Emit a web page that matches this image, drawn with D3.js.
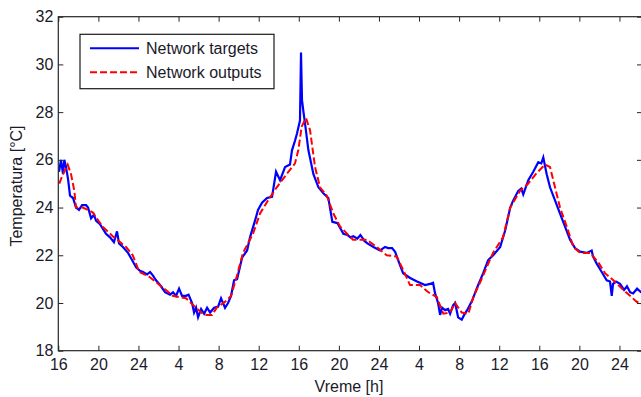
<!DOCTYPE html>
<html>
<head>
<meta charset="utf-8">
<script src="https://cdn.jsdelivr.net/npm/d3@7"></script>
<style>
  body { margin: 0; background: #fff; }
  text { font-family: "Liberation Sans", Arial, sans-serif; fill: #1a1a2a; }
</style>
</head>
<body>
<div id="chart"></div>
<script>
// hours since start (16h on day 1) and measured temperature
const targetHours = [0.07, 0.27, 0.47, 0.6, 0.77, 0.97, 1.17, 1.47, 1.77, 2.07, 2.37, 2.77, 2.97, 3.27, 3.56, 3.76, 4.16, 4.76, 5.16, 5.55, 5.86, 6.06, 6.45, 6.96, 7.36, 7.76, 8.15, 8.46, 8.86, 9.16, 9.45, 9.75, 10.25, 10.65, 11.15, 11.45, 11.75, 12.05, 12.35, 12.75, 13.0, 13.35, 13.55, 13.75, 13.95, 14.25, 14.55, 14.85, 15.15, 15.55, 15.95, 16.24, 16.64, 16.94, 17.24, 17.54, 17.84, 18.34, 18.84, 19.13, 19.63, 19.93, 20.33, 20.83, 21.33, 21.73, 22.13, 22.63, 23.12, 23.32, 23.62, 23.82, 24.12, 24.22, 24.32, 24.47, 24.66, 24.96, 25.46, 25.96, 26.45, 26.95, 27.35, 27.85, 28.45, 28.85, 29.15, 29.45, 29.85, 30.15, 30.55, 30.85, 31.45, 32.11, 32.61, 32.91, 33.31, 33.61, 33.91, 34.41, 35.11, 35.8, 36.6, 37.1, 37.4, 37.6, 37.9, 38.1, 38.3, 38.6, 38.9, 39.1, 39.4, 39.6, 39.9, 40.26, 40.5, 40.8, 41.3, 41.8, 42.4, 42.9, 43.4, 44.1, 44.6, 45.1, 45.4, 45.9, 46.2, 46.4, 46.9, 47.4, 47.9, 48.2, 48.4, 48.74, 49.07, 49.57, 50.07, 50.57, 51.07, 51.57, 52.07, 52.73, 53.23, 53.36, 53.73, 54.23, 54.73, 55.06, 55.23, 55.36, 55.66, 56.06, 56.46, 56.75, 57.06, 57.36, 57.76, 58.16, 58.55];
const targetTemps = [25.5, 26.0, 25.4, 26.0, 25.7, 25.2, 24.5, 24.4, 24.0, 23.9, 24.1, 24.1, 24.0, 23.55, 23.7, 23.45, 23.3, 22.9, 22.75, 22.55, 23.0, 22.5, 22.35, 22.1, 21.8, 21.5, 21.35, 21.3, 21.2, 21.3, 21.15, 20.95, 20.7, 20.45, 20.35, 20.45, 20.3, 20.6, 20.3, 20.3, 20.35, 20.0, 19.6, 19.8, 19.4, 19.75, 19.55, 19.8, 19.6, 19.8, 19.85, 20.2, 19.8, 20.0, 20.3, 20.95, 21.0, 21.9, 22.2, 22.75, 23.45, 23.9, 24.2, 24.4, 24.45, 25.5, 25.15, 25.7, 25.8, 26.4, 26.8, 27.1, 27.65, 30.5, 28.5, 28.0, 27.4, 26.4, 25.4, 24.85, 24.6, 24.4, 23.4, 23.35, 22.9, 22.85, 22.75, 22.8, 22.7, 22.85, 22.6, 22.5, 22.35, 22.2, 22.35, 22.3, 22.3, 22.15, 21.8, 21.25, 21.05, 20.9, 20.75, 20.8, 20.85, 20.4, 20.0, 19.5, 19.8, 19.7, 19.75, 19.55, 19.9, 20.0, 19.4, 19.3, 19.5, 19.7, 20.1, 20.65, 21.25, 21.8, 22.0, 22.35, 23.05, 24.0, 24.3, 24.7, 24.8, 24.55, 25.15, 25.5, 25.9, 25.85, 26.1, 25.4, 24.85, 24.3, 23.75, 23.2, 22.65, 22.3, 22.15, 22.1, 22.2, 21.95, 21.65, 21.3, 20.95, 20.9, 20.3, 20.8, 20.9, 20.8, 20.55, 20.7, 20.45, 20.4, 20.6, 20.45, 20.45];

const outputHours = [0.1, 0.37, 0.94, 1.27, 1.6, 1.77, 2.44, 3.43, 4.43, 5.43, 6.16, 6.76, 7.43, 8.08, 9.08, 10.42, 11.42, 12.74, 13.74, 14.41, 14.81, 15.34, 15.81, 16.81, 17.24, 17.8, 18.43, 19.43, 20.13, 20.93, 21.8, 22.79, 23.62, 23.95, 24.29, 24.72, 25.12, 25.62, 26.12, 26.79, 27.45, 28.13, 28.94, 29.41, 30.78, 31.78, 32.77, 33.77, 34.4, 35.1, 36.1, 36.93, 37.77, 38.42, 39.09, 39.59, 40.26, 40.92, 41.42, 42.08, 42.91, 43.38, 44.38, 45.1, 46.08, 46.88, 47.74, 48.57, 49.07, 49.57, 50.07, 50.74, 51.4, 52.08, 53.08, 53.89, 54.56, 55.39, 56.39, 57.72, 58.55];
const outputTemps = [25.0, 25.3, 25.8, 25.4, 24.7, 24.0, 24.0, 23.8, 23.2, 22.8, 22.55, 22.35, 22.0, 21.3, 21.1, 20.65, 20.3, 20.2, 19.8, 19.55, 19.5, 19.5, 19.8, 20.1, 20.3, 21.1, 22.1, 22.9, 23.75, 24.3, 24.85, 25.4, 25.85, 26.4, 27.4, 27.75, 27.25, 25.7, 24.85, 24.5, 23.75, 23.2, 22.85, 22.65, 22.65, 22.35, 22.0, 21.95, 21.4, 20.75, 20.75, 20.45, 20.25, 19.55, 19.6, 20.0, 19.6, 19.55, 20.25, 20.85, 21.65, 22.1, 22.75, 24.0, 24.7, 25.0, 25.45, 25.8, 25.7, 24.85, 24.0, 23.2, 22.35, 22.1, 22.1, 21.7, 21.25, 20.95, 20.55, 20.05, 19.9];

const xTickHours = [0, 4, 8, 12, 16, 20, 24, 28, 32, 36, 40, 44, 48, 52, 56];
const xTickLabels = ['16', '20', '24', '4', '8', '12', '16', '20', '24', '4', '8', '12', '16', '20', '24'];
const yTicks = [18, 20, 22, 24, 26, 28, 30, 32];

const width = 641, height = 397;
const plotLeft = 58.3, plotRight = 642, plotTop = 16.7, plotBottom = 350.7;
const fontSize = 16;

const svg = d3.select('#chart').append('svg')
  .attr('width', width)
  .attr('height', height);

svg.append('rect').attr('width', width).attr('height', height).attr('fill', '#fff');

const x = d3.scaleLinear().domain([0, 58.25]).range([plotLeft, plotRight]);
const y = d3.scaleLinear().domain([18, 32]).range([plotBottom, plotTop]);

svg.append('clipPath').attr('id', 'plot-clip')
  .append('rect')
  .attr('x', plotLeft).attr('y', plotTop)
  .attr('width', plotRight - plotLeft).attr('height', plotBottom - plotTop);

const line = d3.line()
  .x(d => x(d[0]))
  .y(d => y(d[1]));

const targets = targetHours.map((h, i) => [h, targetTemps[i]]);
const outputs = outputHours.map((h, i) => [h, outputTemps[i]]);

const plot = svg.append('g').attr('clip-path', 'url(#plot-clip)');

// measured temperature
plot.append('path')
  .datum(targets)
  .attr('fill', 'none')
  .attr('stroke', '#0000ff')
  .attr('stroke-width', 2.2)
  .attr('d', line);

// network prediction
plot.append('path')
  .datum(outputs)
  .attr('fill', 'none')
  .attr('stroke', '#ff0000')
  .attr('stroke-width', 2)
  .attr('stroke-dasharray', '7,3')
  .attr('d', line);

// axes, ticks pointing inward like matlab
const tickLen = 5;

svg.append('g')
  .attr('transform', 'translate(0,' + plotBottom + ')')
  .call(d3.axisBottom(x).tickValues(xTickHours).tickSize(-tickLen).tickPadding(8)
    .tickFormat((d, i) => xTickLabels[i]))
  .call(g => g.select('.domain').remove());

svg.append('g')
  .attr('transform', 'translate(0,' + plotTop + ')')
  .call(d3.axisTop(x).tickValues(xTickHours).tickSize(-tickLen).tickFormat(''))
  .call(g => g.select('.domain').remove());

svg.append('g')
  .attr('transform', 'translate(' + plotLeft + ',0)')
  .call(d3.axisLeft(y).tickValues(yTicks).tickSize(-tickLen).tickPadding(5))
  .call(g => g.select('.domain').remove());

svg.append('g')
  .attr('transform', 'translate(' + plotRight + ',0)')
  .call(d3.axisRight(y).tickValues(yTicks).tickSize(-tickLen).tickFormat(''))
  .call(g => g.select('.domain').remove());

svg.selectAll('.tick line').attr('stroke', '#262626');
svg.selectAll('.tick text')
  .attr('font-size', fontSize)
  .attr('font-family', '"Liberation Sans", Arial, sans-serif')
  .attr('fill', '#1a1a2a');

svg.append('rect')
  .attr('x', plotLeft).attr('y', plotTop)
  .attr('width', plotRight - plotLeft).attr('height', plotBottom - plotTop)
  .attr('fill', 'none')
  .attr('stroke', '#262626')
  .attr('stroke-width', 1.2);

// axis labels
svg.append('text')
  .attr('x', 349).attr('y', 392)
  .attr('text-anchor', 'middle')
  .attr('font-size', fontSize)
  .text('Vreme [h]');

svg.append('text')
  .attr('transform', 'translate(22,186) rotate(-90)')
  .attr('text-anchor', 'middle')
  .attr('font-size', fontSize)
  .text('Temperatura [°C]');

// legend
const legend = svg.append('g').attr('transform', 'translate(80,34.3)');
legend.append('rect')
  .attr('width', 194).attr('height', 54.4)
  .attr('fill', '#fff')
  .attr('stroke', '#1a1a1a')
  .attr('stroke-width', 1.2);

const legendItems = [
  { label: 'Network targets', color: '#0000ff', dash: null },
  { label: 'Network outputs', color: '#ff0000', dash: '7,3' }
];

legendItems.forEach((item, i) => {
  const row = legend.append('g').attr('transform', 'translate(0,' + (14 + i * 24) + ')');
  row.append('line')
    .attr('x1', 10).attr('x2', 59)
    .attr('stroke', item.color)
    .attr('stroke-width', 2)
    .attr('stroke-dasharray', item.dash);
  row.append('text')
    .attr('x', 66).attr('y', 6)
    .attr('font-size', fontSize)
    .text(item.label);
});
</script>
</body>
</html>
